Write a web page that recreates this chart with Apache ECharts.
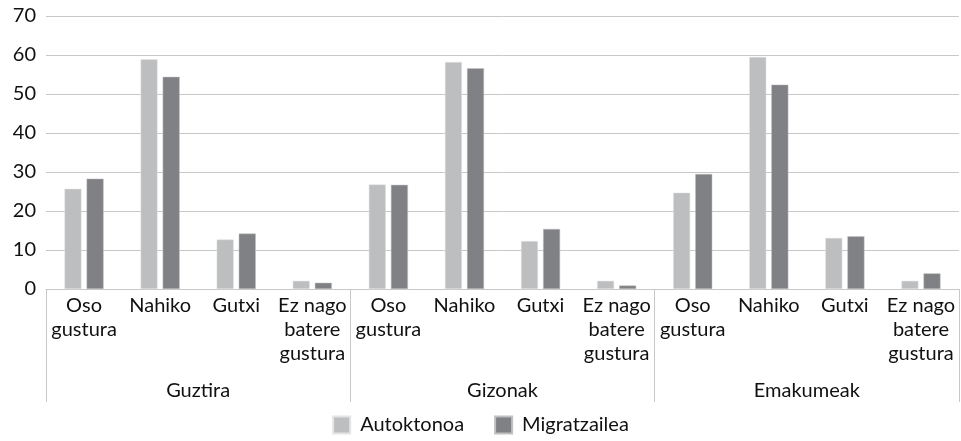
<!DOCTYPE html>
<html>
<head>
<meta charset="utf-8">
<script src="https://cdn.jsdelivr.net/npm/echarts@6/dist/echarts.min.js"></script>
<style>
  html, body { margin: 0; padding: 0; background: #fff; }
  #chart { width: 961px; height: 441px; }
</style>
</head>
<body>
<div id="chart"></div>
<script>
// datuak
const groups = ['Guztira', 'Gizonak', 'Emakumeak']
const answers = ['Oso\ngustura', 'Nahiko', 'Gutxi', 'Ez nago\nbatere\ngustura']
const categories = groups.flatMap(() => answers)
const autoktonoa = [25.7, 58.9, 12.7, 2.1, 26.8, 58.2, 12.3, 2.1, 24.7, 59.5, 13.1, 2.1]
const migratzailea = [28.3, 54.4, 14.2, 1.6, 26.7, 56.6, 15.4, 0.9, 29.5, 52.4, 13.5, 4.0]
const yTicks = [0, 10, 20, 30, 40, 50, 60, 70]

const font = 'Lato, "Open Sans", sans-serif'
const lineColor = '#c8c8c8'
const textColor = '#111'

const chart = echarts.init(document.getElementById('chart'))
chart.setOption({
  animation: false,
  textStyle: { fontFamily: font },
  legend: {
    bottom: 1,
    left: 'center',
    itemWidth: 17,
    itemHeight: 17,
    itemGap: 30,
    icon: 'rect',
    textStyle: { fontSize: 20, color: textColor, fontFamily: font, padding: [0, 0, 0, 5] }
  },
  grid: { left: 46, right: 2, top: 16, bottom: 152, containLabel: false },
  xAxis: [
    {
      type: 'category',
      data: categories,
      axisLine: { show: true, lineStyle: { color: lineColor } },
      axisTick: { show: false },
      axisLabel: {
        interval: 0,
        margin: 5,
        fontSize: 20,
        lineHeight: 24,
        color: textColor,
        align: 'center'
      }
    },
    {
      type: 'category',
      position: 'bottom',
      data: groups,
      axisLine: { show: false },
      axisTick: { show: true, length: 113, interval: 0, lineStyle: { color: lineColor } },
      axisLabel: { margin: 92, fontSize: 20, color: textColor }
    }
  ],
  yAxis: {
    type: 'value',
    min: yTicks[0],
    max: yTicks[yTicks.length - 1],
    interval: 10,
    axisLine: { show: false },
    axisTick: { show: false },
    axisLabel: { fontSize: 20, color: textColor, margin: 10 },
    splitLine: { lineStyle: { color: lineColor } }
  },
  series: [
    {
      name: 'Autoktonoa',
      type: 'bar',
      data: autoktonoa,
      barWidth: 17,
      barGap: '30%',
      itemStyle: { color: '#bdbec0', borderColor: '#e4e4e4', borderWidth: 0.5 }
    },
    {
      name: 'Migratzailea',
      type: 'bar',
      data: migratzailea,
      barWidth: 17,
      barGap: '30%',
      itemStyle: { color: '#808184', borderColor: '#c0c0c0', borderWidth: 0.5 }
    }
  ]
})
</script>
</body>
</html>
